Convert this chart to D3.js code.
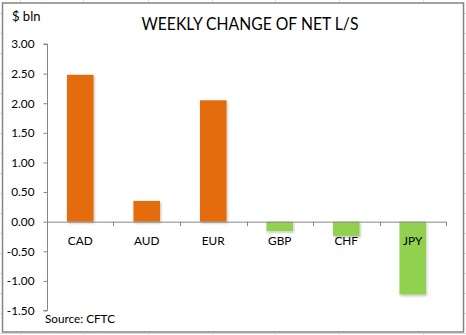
<!DOCTYPE html>
<html>
<head>
<meta charset="utf-8">
<script src="https://cdn.jsdelivr.net/npm/d3@7"></script>
<style>
  html, body { margin: 0; padding: 0; background: #fff; }
  svg { display: block; }
  text { font-family: Lato, "Open Sans", sans-serif; fill: #000; }
</style>
</head>
<body>
<svg id="chart" width="466" height="335"></svg>
<script>
const categories = ["CAD", "AUD", "EUR", "GBP", "CHF", "JPY"];
const values = [2.48, 0.35, 2.05, -0.16, -0.24, -1.23];
const yTickValues = [3.0, 2.5, 2.0, 1.5, 1.0, 0.5, 0.0, -0.5, -1.0, -1.5];
const titleText = "WEEKLY CHANGE OF NET L/S";
const unitText = "$ bln";
const sourceText = "Source: CFTC";

const svg = d3.select("#chart");
const W = 466, H = 335;

// spreadsheet gridlines behind the chart object
const grid = svg.append("g").attr("stroke", "#dcdcdc").attr("stroke-width", 1);
d3.range(13.5, H, 20).forEach(yy => grid.append("line").attr("x1", 0).attr("x2", W).attr("y1", yy).attr("y2", yy));
[20.5, 83.5, 148.5, 212.5, 275.5, 339.5, 423.5].forEach(xx => grid.append("line").attr("x1", xx).attr("x2", xx).attr("y1", 0).attr("y2", H));

// chart area
svg.append("rect").attr("x", 2.5).attr("y", 3).attr("width", 461).attr("height", 329)
  .attr("fill", "#fff").attr("stroke", "#858585").attr("stroke-width", 1.5);

const defs = svg.append("defs");
const f = defs.append("filter").attr("id", "shadow").attr("x", "-20%").attr("y", "-20%").attr("width", "150%").attr("height", "150%");
f.append("feDropShadow").attr("dx", 1).attr("dy", 1.5).attr("stdDeviation", 1.2).attr("flood-color", "#000").attr("flood-opacity", 0.25);

const x = d3.scaleBand().domain(categories).range([47, 446]).paddingInner(0.6).paddingOuter(0.3);
const y = d3.scaleLinear().domain([-1.5, 3]).range([310.5, 44]);

// bars
svg.append("g").selectAll("rect").data(categories).join("rect")
  .attr("x", (c) => x(c))
  .attr("width", x.bandwidth())
  .attr("y", (c, i) => y(Math.max(0, values[i])))
  .attr("height", (c, i) => Math.abs(y(values[i]) - y(0)))
  .attr("fill", (c, i) => values[i] >= 0 ? "#E46C0A" : "#92D050")
  .attr("filter", "url(#shadow)");

// y axis
const yAxis = svg.append("g").attr("transform", "translate(47.5,0)")
  .call(d3.axisLeft(y).tickValues(yTickValues).tickSize(4).tickPadding(9).tickFormat(d => d.toFixed(2)));
yAxis.select(".domain").attr("stroke", "#868686").attr("d", `M-4,${y(3)}H0V${y(-1.5)}H-4`);
yAxis.selectAll(".tick line").attr("stroke", "#868686");
yAxis.selectAll(".tick text").attr("font-size", 11.8).attr("font-family", "Lato, sans-serif").attr("fill", "#000");

// x axis line at zero
const step = x.step();
const x0 = x(categories[0]) - step * x.paddingInner() / 2;
const boundaries = d3.range(categories.length + 1).map(i => x0 + i * step);
const xAxis = svg.append("g");
xAxis.append("line").attr("x1", boundaries[0]).attr("x2", boundaries[boundaries.length - 1])
  .attr("y1", y(0) + 0.5).attr("y2", y(0) + 0.5).attr("stroke", "#868686");
xAxis.selectAll("line.tk").data(boundaries).join("line").attr("class", "tk")
  .attr("x1", d => Math.round(d) + 0.5).attr("x2", d => Math.round(d) + 0.5)
  .attr("y1", y(0)).attr("y2", y(0) + 4.5).attr("stroke", "#868686");
xAxis.selectAll("text").data(categories).join("text")
  .attr("x", c => x(c) + x.bandwidth() / 2)
  .attr("y", 244.5)
  .attr("text-anchor", "middle")
  .attr("font-size", 11.8)
  .text(c => c);

// title and notes
svg.append("text").attr("x", 250).attr("y", 30).attr("text-anchor", "middle")
  .attr("font-size", 17).attr("textLength", 217).attr("lengthAdjust", "spacingAndGlyphs").text(titleText);
svg.append("text").attr("x", 12).attr("y", 21).attr("font-size", 13).text(unitText);
svg.append("text").attr("x", 45).attr("y", 322.5).attr("font-size", 12).attr("textLength", 70).attr("lengthAdjust", "spacingAndGlyphs").text(sourceText);
</script>
</body>
</html>
